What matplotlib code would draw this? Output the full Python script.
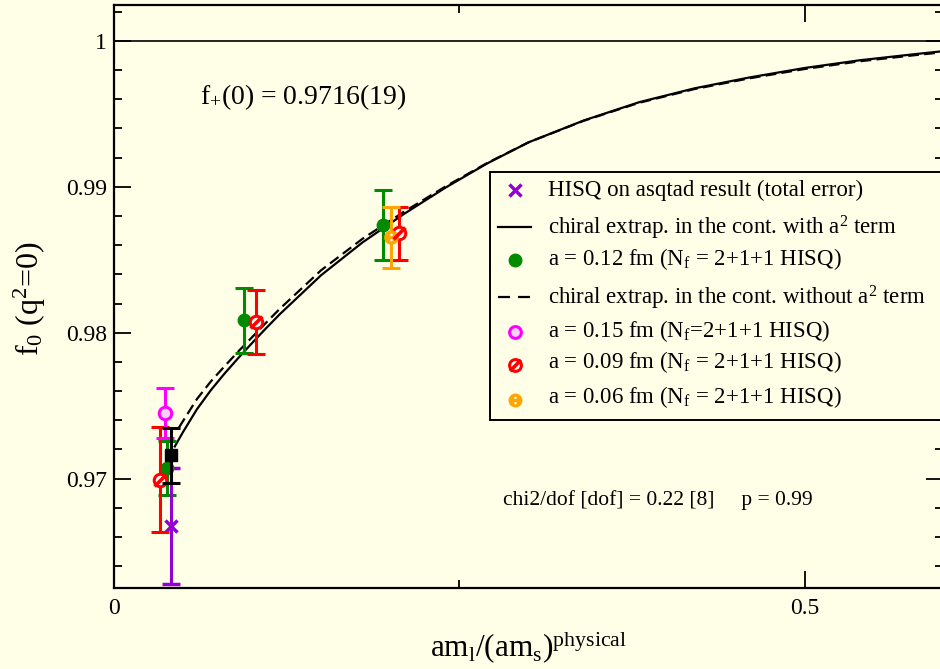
import matplotlib
matplotlib.use("Agg")
import matplotlib.pyplot as plt
from matplotlib.path import Path
from matplotlib.patches import Rectangle
from matplotlib.lines import Line2D
from matplotlib.ticker import MultipleLocator, FixedLocator, FixedFormatter

# ---- data -------------------------------------------------------------
# a = 0.12 fm ensembles
x_a012 = [0.0385, 0.0943, 0.1949]
y_a012 = [0.97073, 0.98084, 0.98740]
e_a012 = [0.00183, 0.00220, 0.00240]
# a = 0.09 fm ensembles
x_a009 = [0.0333, 0.1027, 0.2062]
y_a009 = [0.96993, 0.98073, 0.98683]
e_a009 = [0.00360, 0.00220, 0.00182]
# a = 0.15 fm ensemble
x_a015 = [0.0369]
y_a015 = [0.97450]
e_a015 = [0.00171]
# a = 0.06 fm ensemble
x_a006 = [0.2002]
y_a006 = [0.98655]
e_a006 = [0.00209]
# HISQ on asqtad result
x_asq = [0.0412]
y_asq = [0.96673]
e_asq = [0.00399]
# f+(0) at the physical point
x_phys = [0.0412]
y_phys = [0.9716]
e_phys = [0.0019]

# chiral extrapolation in the continuum, with a^2 term
x_fit = [0.044, 0.05, 0.06, 0.07, 0.08, 0.09, 0.10, 0.11, 0.12, 0.15,
         0.18, 0.21, 0.24, 0.27, 0.30, 0.34, 0.38, 0.42, 0.46, 0.50,
         0.54, 0.58, 0.60]
y_fit = [0.9722, 0.9732, 0.97475, 0.97605, 0.9772, 0.97827, 0.9793, 0.9803,
         0.98127, 0.98395, 0.9862, 0.98815, 0.98995, 0.9916, 0.99305,
         0.99455, 0.9958, 0.99675, 0.9975, 0.99815, 0.99868, 0.9991, 0.9993]
# chiral extrapolation in the continuum, without a^2 term
x_fit2 = [0.047, 0.06, 0.07, 0.08, 0.09, 0.10, 0.11, 0.12, 0.15, 0.18,
          0.21, 0.24, 0.27, 0.30, 0.34, 0.38, 0.42, 0.46, 0.50, 0.54,
          0.58, 0.60]
y_fit2 = [0.9735, 0.97545, 0.97665, 0.9777, 0.97872, 0.9797, 0.98068,
          0.98164, 0.98429, 0.98645, 0.9883, 0.99003, 0.99163, 0.99305,
          0.99453, 0.99576, 0.9967, 0.99744, 0.99808, 0.99861, 0.99903,
          0.99923]

ytick_vals = [0.97, 0.98, 0.99, 1.0]
ytick_labels = ["0.97", "0.98", "0.99", "1"]
xtick_vals = [0.0, 0.5]
xtick_labels = ["0", "0.5"]

# ---- style ------------------------------------------------------------
plt.rcParams["font.family"] = ["Liberation Serif", "DejaVu Serif"]
plt.rcParams["mathtext.fontset"] = "custom"
plt.rcParams["mathtext.rm"] = "Liberation Serif"
plt.rcParams["mathtext.it"] = "Liberation Serif:italic"
plt.rcParams["mathtext.bf"] = "Liberation Serif:bold"

BG = "#ffffe8"
GREEN = "#008b00"
RED = "#ff0000"
MAGENTA = "#ff00ff"
ORANGE = "#ffa500"
VIOLET = "#9400d3"
PINK = "#fbd0fb"

W, H = 940, 669
fig = plt.figure(figsize=(W / 100, H / 100), dpi=100)
fig.patch.set_facecolor(BG)

def fx(px):
    return px / W

def fy(py):
    return 1 - py / H

ax = fig.add_axes([fx(114), fy(588), fx(943) - fx(114), fy(4.5) - fy(588)])
ax.set_facecolor(BG)
ax.set_xlim(0, 0.6)
ax.set_ylim(0.9625, 1.0025)

for s in ax.spines.values():
    s.set_linewidth(1.6)

ax.yaxis.set_major_locator(FixedLocator(ytick_vals))
ax.yaxis.set_major_formatter(FixedFormatter(ytick_labels))
ax.yaxis.set_minor_locator(MultipleLocator(0.002))
ax.xaxis.set_major_locator(FixedLocator(xtick_vals))
ax.xaxis.set_major_formatter(FixedFormatter(xtick_labels))
ax.xaxis.set_minor_locator(MultipleLocator(0.25))
ax.tick_params(which="both", direction="in", top=True, right=True,
               width=1.3, labelsize=17)
ax.tick_params(which="major", length=12)
ax.tick_params(which="minor", length=6)
ax.tick_params(axis="y", pad=5)
ax.tick_params(axis="x", pad=7)

# reference line at unity
ax.axhline(1.0, color="black", lw=1.2, zorder=1)

# fit curves
DASH = (0, (4.8, 2.4))
ax.plot(x_fit, y_fit, color="black", lw=1.6, zorder=2,
        solid_joinstyle="round")
ax.plot(x_fit2, y_fit2, color="black", lw=1.6, ls=DASH, zorder=2)

eb = dict(elinewidth=2.2, capthick=2.2, capsize=6.5, ls="none")
slash = Path([(-0.55, -0.55), (0.55, 0.55)], [Path.MOVETO, Path.LINETO])

# data points
ax.errorbar(x_a012, y_a012, yerr=e_a012, color=GREEN, marker="o", ms=9,
            mfc=GREEN, mec=GREEN, zorder=3, **eb)
ax.errorbar(x_asq, y_asq, yerr=e_asq, color=VIOLET, marker="x", ms=9,
            mew=2.5, zorder=3, **eb)
ax.errorbar(x_a009, y_a009, yerr=e_a009, color=RED, marker="o", ms=9,
            mfc="white", mec=RED, mew=2.2, zorder=4, **eb)
ax.plot(x_a009, y_a009, ls="none", marker=slash, ms=8.5, mec=RED, mew=2.6,
        zorder=5)
ax.errorbar(x_a015, y_a015, yerr=e_a015, color=MAGENTA, marker="o", ms=9,
            mfc=PINK, mec=MAGENTA, mew=2.2, zorder=4, **eb)
ax.errorbar(x_a006, y_a006, yerr=e_a006, color=ORANGE, marker="o", ms=9.5,
            mfc=ORANGE, mec=ORANGE, zorder=4, **eb)
ax.plot(x_a006, y_a006, ls="none", marker="$:$", ms=5, mfc="white",
        mec="white", mew=0.5, zorder=5)
ax.errorbar(x_phys, y_phys, yerr=e_phys, color="black", marker="s", ms=8.5,
            mfc="black", mec="black", zorder=6, **eb)

# annotations
fig.text(fx(200), fy(104), r"f$_{+}$(0) = 0.9716(19)", fontsize=20,
         ha="left", va="baseline")
fig.text(fx(503), fy(505), "chi2/dof [dof] = 0.22 [8]     p = 0.99",
         fontsize=15.5, ha="left", va="baseline")

# axis titles
fig.text(fx(529), fy(657),
         r"am$_{\mathrm{l}}$/(am$_{\mathrm{s}}$)$^{\mathrm{physical}}$",
         fontsize=22.5, ha="center", va="baseline")
fig.text(fx(30), fy(298), r"f$_{\mathrm{0}}$ (q$^{\mathrm{2}}$=0)",
         fontsize=23, rotation=90, ha="center", va="center")

# legend
fig.add_artist(Rectangle((fx(489.5), fy(419.5)), fx(960) - fx(489.5),
                         fy(172) - fy(419.5), transform=fig.transFigure,
                         facecolor=BG, edgecolor="black", lw=1.4, zorder=7))

def key_marker(py, **kw):
    fig.add_artist(Line2D([fx(515)], [fy(py)], transform=fig.transFigure,
                          ls="none", zorder=8, **kw))

def key_line(py, **kw):
    fig.add_artist(Line2D([fx(498), fx(531)], [fy(py), fy(py)],
                          transform=fig.transFigure, color="black", lw=1.6,
                          zorder=8, **kw))

def key_text(py, s):
    fig.text(fx(548), fy(py), s, fontsize=16.5, ha="left", va="baseline",
             zorder=9)

key_marker(190, marker="x", ms=8, mew=2.5, color=VIOLET)
key_text(196, "HISQ on asqtad result (total error)")
key_line(227)
key_text(234, r"chiral extrap. in the cont. with a$^{\mathrm{2}}$ term")
key_marker(260, marker="o", ms=9, color=GREEN)
key_text(265, r"a = 0.12 fm (N$_{\mathrm{f}}$ = 2+1+1 HISQ)")
key_line(297, ls=(0, (5.4, 3.6)))
key_text(305, r"chiral extrap. in the cont. without a$^{\mathrm{2}}$ term")
key_marker(332, marker="o", ms=8.5, mfc=PINK, mec=MAGENTA, mew=2.2)
key_text(337, r"a = 0.15 fm (N$_{\mathrm{f}}$=2+1+1 HISQ)")
key_marker(365, marker="o", ms=8.5, mfc="white", mec=RED, mew=2.2)
key_marker(365, marker=slash, ms=8, mec=RED, mew=2.6)
key_text(368, r"a = 0.09 fm (N$_{\mathrm{f}}$ = 2+1+1 HISQ)")
key_marker(400, marker="o", ms=9, color=ORANGE)
key_marker(400, marker="$:$", ms=5, mfc="white", mec="white", mew=0.5)
key_text(403, r"a = 0.06 fm (N$_{\mathrm{f}}$ = 2+1+1 HISQ)")

fig.savefig("out.png", dpi=100, facecolor=BG)
